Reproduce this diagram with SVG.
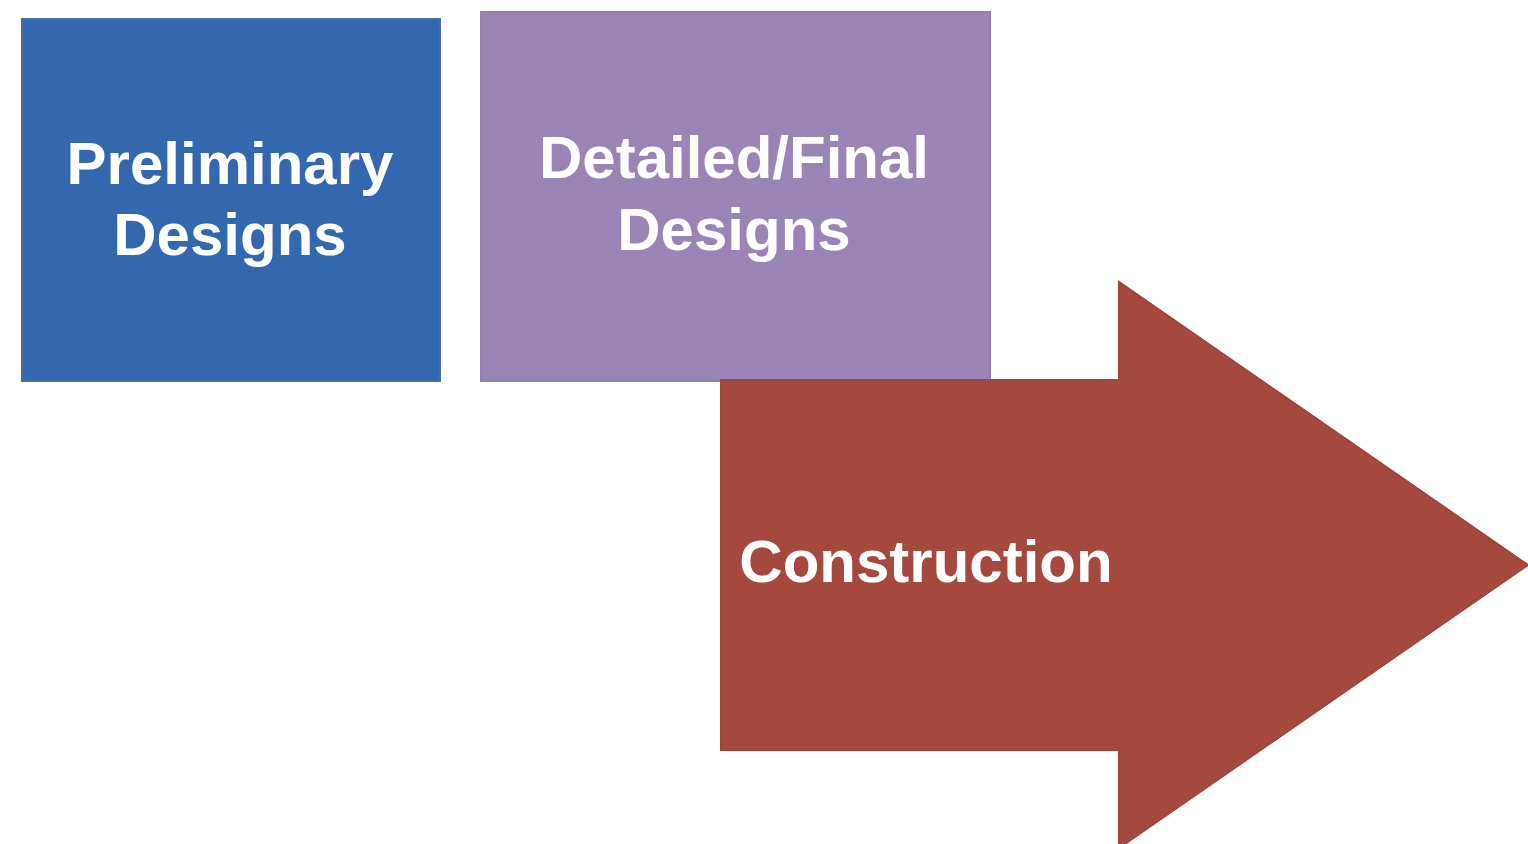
<svg xmlns="http://www.w3.org/2000/svg" width="1528" height="844" viewBox="0 0 1528 844">
<style>
.lbl{font-family:"Liberation Sans",Arial,sans-serif;font-weight:bold;fill:#ffffff;text-anchor:middle;font-size:60px}
</style>
<rect width="1528" height="844" fill="#ffffff"/>
<g id="node-preliminary">
<rect x="22" y="19" width="418" height="362" fill="#3468ae" stroke="#4a6fa3" stroke-width="2"/>
<text class="lbl" x="230" y="184">Preliminary</text>
<text class="lbl" x="230" y="255">Designs</text>
</g>
<g id="node-detailed">
<rect x="481" y="12" width="509" height="369" fill="#9a84b5" stroke="#9480ac" stroke-width="2"/>
<text class="lbl" x="734" y="178">Detailed/Final</text>
<text class="lbl" x="734" y="250">Designs</text>
</g>
<g id="node-construction">
<path d="M721,380 H1119 V282 L1528,565 L1119,848 V750 H721 Z" fill="#a5493f" stroke="#9c4640" stroke-width="2"/>
<text class="lbl" x="926" y="582">Construction</text>
</g>
<g id="connectors"/>
</svg>
